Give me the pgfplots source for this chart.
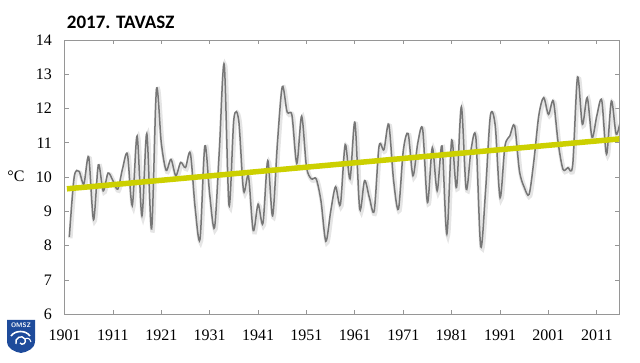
\documentclass[border=0pt]{standalone}
\usepackage{pgfplots}
\pgfplotsset{compat=1.18}
\usepackage{pgfplotstable}
\usepackage{fontspec}
\setmainfont{Liberation Serif}
\newfontfamily\carlito{Carlito}
\definecolor{curvegray}{RGB}{118,118,118}
\definecolor{trendyel}{RGB}{204,208,0}
\definecolor{axisgray}{RGB}{150,150,150}
\definecolor{omszblue}{RGB}{30,75,155}

\pgfplotstableread{
year temp
1902 8.26
1903 10.0
1904 10.17
1905 9.8
1906 10.59
1907 8.76
1908 10.36
1909 9.6
1910 10.12
1911 9.9
1912 9.65
1913 10.25
1914 10.67
1915 9.17
1916 11.2
1917 8.87
1918 11.27
1919 8.49
1920 12.56
1921 11.0
1922 10.2
1923 10.52
1924 10.04
1925 10.43
1926 10.28
1927 10.7
1928 9.1
1929 8.19
1930 10.91
1931 9.5
1932 8.53
1933 10.8
1934 13.29
1935 9.17
1936 11.7
1937 11.65
1938 9.6
1939 10.04
1940 8.44
1941 9.21
1942 8.65
1943 10.48
1944 8.87
1945 11.0
1946 12.64
1947 11.9
1948 11.8
1949 10.4
1950 11.78
1951 10.3
1952 9.95
1953 9.95
1954 9.3
1955 8.13
1956 9.0
1957 9.72
1958 9.2
1959 10.95
1960 9.95
1961 11.6
1962 9.07
1963 9.9
1964 9.4
1965 9.02
1966 10.91
1967 10.8
1968 11.54
1969 9.9
1970 9.07
1971 10.77
1972 11.27
1973 10.04
1974 11.0
1975 11.4
1976 9.26
1977 10.86
1978 9.6
1979 10.91
1980 8.34
1981 11.08
1982 9.7
1983 12.05
1984 9.65
1985 10.8
1986 11.15
1987 7.97
1988 9.6
1989 11.8
1990 11.5
1991 9.4
1992 10.9
1993 11.2
1994 11.5
1995 10.18
1996 9.7
1997 9.5
1998 10.5
1999 11.8
2000 12.32
2001 11.83
2002 12.22
2003 11.0
2004 10.23
2005 10.28
2006 10.35
2007 12.92
2008 11.54
2009 12.32
2010 11.16
2011 11.8
2012 12.24
2013 10.67
2014 12.22
2015 11.25
2016 11.75
}\springdata

\begin{document}
\begin{tikzpicture}
\path[use as bounding box] (0,0) rectangle (640pt,363pt);
\begin{axis}[
  at={(64.5pt,48.7pt)}, anchor=south west,
  scale only axis, width=554.8pt, height=274.3pt,
  xmin=1901, xmax=2015.63, ymin=6, ymax=14,
  xtick={1901,1911,...,2011},
  ytick={6,7,...,14},
  /pgf/number format/1000 sep={},
  /pgf/number format/assume math mode=true,
  tick label style={font=\rmfamily\fontsize{16}{18}\selectfont, text=black},
  xticklabel style={yshift=-12pt},
  yticklabel style={xshift=-9pt},
  tick align=inside,
  major tick length=4pt,
  tick style={draw=axisgray, line width=0.8pt},
  axis line style={draw=axisgray, line width=1pt},
  clip=true,
]
\addplot[smooth, draw=black!20, opacity=0.5, line width=4.5pt,
  transform canvas={xshift=1pt,yshift=-1.5pt}] table[x=year,y=temp] {\springdata};
\addplot[smooth, draw=curvegray, line width=1.5pt] table[x=year,y=temp] {\springdata};
\addplot[draw=trendyel, line width=5.5pt] coordinates {(1901.5,9.66) (2016,11.12)};
\end{axis}
% axis unit label
\node[font=\rmfamily\fontsize{16}{18}\selectfont] at (16pt,187pt) {°C};
% title
\node[anchor=west, font=\carlito\bfseries\fontsize{19}{21}\selectfont, inner sep=0pt] at (66.7pt,340.3pt) {2017. TAVASZ};
% OMSZ logo
\fill[omszblue] (7pt,43pt) -- (35pt,43pt) -- (35pt,22pt) .. controls (35pt,14pt) and (27pt,11pt) .. (21pt,10pt) .. controls (15pt,11pt) and (7pt,14pt) .. (7pt,22pt) -- cycle;
\node[text=white, font=\sffamily\bfseries\fontsize{6.5}{7}\selectfont, inner sep=0pt] at (21pt,37.5pt) {OMSZ};
\draw[white, line width=1.6pt] (11pt,27pt) .. controls (15pt,33pt) and (26pt,33pt) .. (30pt,27pt);
\draw[white, line width=1.4pt] (16pt,19pt) .. controls (14pt,25pt) and (22pt,29pt) .. (25pt,24pt) .. controls (27pt,20pt) and (22pt,17pt) .. (20pt,20pt);
\draw[white, line width=1pt] (25pt,24pt) .. controls (28pt,26pt) and (30pt,24pt) .. (31pt,21pt);
\end{tikzpicture}
\end{document}
